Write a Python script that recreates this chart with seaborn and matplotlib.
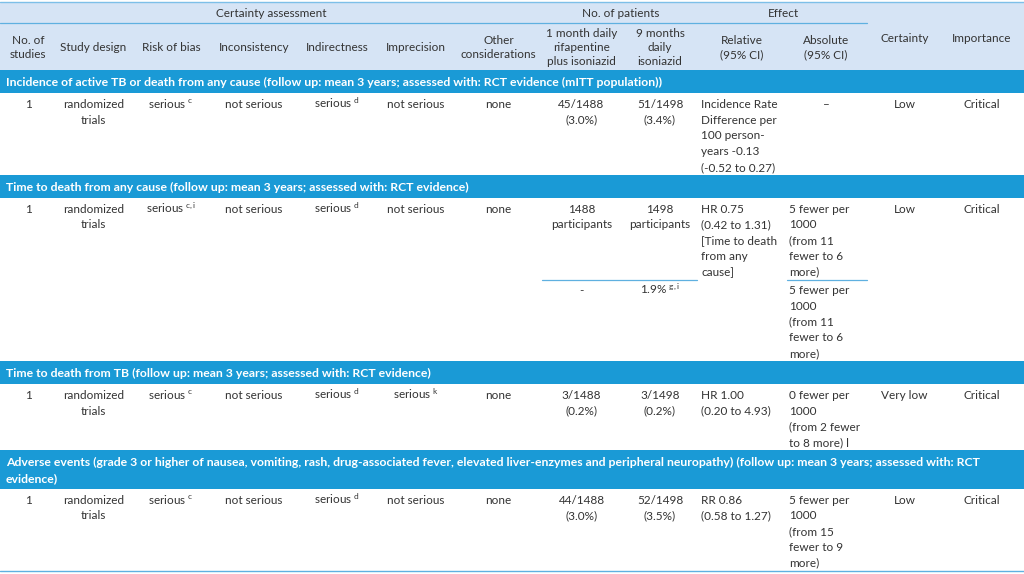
import matplotlib.pyplot as plt
from matplotlib.patches import Rectangle
import seaborn as sns

sns.set_theme(style='white')
plt.rcParams['font.family'] = ['Lato', 'DejaVu Sans']
plt.rcParams['mathtext.fontset'] = 'custom'
plt.rcParams['mathtext.rm'] = 'Lato'
plt.rcParams['mathtext.it'] = 'Lato:italic'
plt.rcParams['mathtext.bf'] = 'Lato:bold'

# table content
group_headers = ['Certainty assessment', 'No. of patients', 'Effect']
column_headers = ['No. of\nstudies', 'Study design', 'Risk of bias', 'Inconsistency',
                  'Indirectness', 'Imprecision', 'Other\nconsiderations',
                  '1 month daily\nrifapentine\nplus isoniazid', '9 months\ndaily\nisoniazid',
                  'Relative\n(95% CI)', 'Absolute\n(95% CI)', 'Certainty', 'Importance']
section_titles = [
    'Incidence of active TB or death from any cause (follow up: mean 3 years; assessed with: RCT evidence (mITT population))',
    'Time to death from any cause (follow up: mean 3 years; assessed with: RCT evidence)',
    'Time to death from TB (follow up: mean 3 years; assessed with: RCT evidence)',
    'Adverse events (grade 3 or higher of nausea, vomiting, rash, drug-associated fever, elevated liver-enzymes and peripheral neuropathy) (follow up: mean 3 years; assessed with: RCT\nevidence)',
]
n_studies = ['1', '1', '1', '1']
study_design = ['randomized\ntrials'] * 4
risk_of_bias = ['serious'] * 4
risk_of_bias_sup = ['c', 'c,i', 'c', 'c']
inconsistency = ['not serious'] * 4
indirectness = ['serious'] * 4
indirectness_sup = ['d', 'd', 'd', 'd']
imprecision = ['not serious', 'not serious', 'serious', 'not serious']
imprecision_sup = ['', '', 'k', '']
other = ['none'] * 4
rifapentine = ['45/1488\n(3.0%)', '1488\nparticipants', '3/1488\n(0.2%)', '44/1488\n(3.0%)']
isoniazid = ['51/1498\n(3.4%)', '1498\nparticipants', '3/1498\n(0.2%)', '52/1498\n(3.5%)']
relative = ['Incidence Rate\nDifference per\n100 person-\nyears -0.13\n(-0.52 to 0.27)',
            'HR 0.75\n(0.42 to 1.31)\n[Time to death\nfrom any\ncause]',
            'HR 1.00\n(0.20 to 4.93)',
            'RR 0.86\n(0.58 to 1.27)']
absolute = ['–', '5 fewer per\n1000\n(from 11\nfewer to 6\nmore)',
            '0 fewer per\n1000\n(from 2 fewer\nto 8 more) l',
            '5 fewer per\n1000\n(from 15\nfewer to 9\nmore)']
certainty = ['Low', 'Low', 'Very low', 'Low']
importance = ['Critical'] * 4
# second line of the "time to death from any cause" outcome
sub_section = 1
sub_rifapentine = '-'
sub_isoniazid = '1.9%'
sub_isoniazid_sup = 'g,i'
sub_absolute = '5 fewer per\n1000\n(from 11\nfewer to 6\nmore)'

# layout
edges = [0, 56, 131, 211, 297, 377, 455, 542, 621, 699, 785, 867, 942, 1022]
centers = [(a + b) / 2 for a, b in zip(edges[:-1], edges[1:])]
HEADER_BG = '#d6e4f5'
BAR = '#1a9ad6'
LINE = '#5fb0e0'
TXT = '#333333'
FS = 8.5
FS_BAR = 8.8
DY = 15.7


def sup(text, s):
    return text if not s else text + ' $^{\\mathrm{' + s + '}}$'


def put(ax, x, y, text, dy=DY, ha='center', **kw):
    kw.setdefault('color', TXT)
    kw.setdefault('fontsize', FS)
    for k, line in enumerate(text.split('\n')):
        ax.text(x, y + k * dy, line, ha=ha, va='baseline', **kw)


fig = plt.figure(figsize=(10.24, 5.74), dpi=100)
ax = fig.add_axes([0, 0, 1, 1])
ax.set_xlim(0, 1024)
ax.set_ylim(574, 0)
ax.axis('off')

# header block
ax.add_patch(Rectangle((0, 2), 1024, 68, color=HEADER_BG, lw=0))
ax.plot([0, 1024], [2, 2], color='#7dbfe8', lw=1.0)
ax.plot([0, edges[11]], [23, 23], color=LINE, lw=0.9)
group_x = [(edges[0] + edges[7]) / 2, (edges[7] + edges[9]) / 2, (edges[9] + edges[11]) / 2]
for gx, g in zip(group_x, group_headers):
    put(ax, gx, 17, g)
for k, h in enumerate(column_headers):
    n = h.count('\n') + 1
    yc = 37.5 if k >= 11 else 47
    put(ax, centers[k], yc - (n - 1) * 7 + 4, h, dy=14)

y = 70
for i, title in enumerate(section_titles):
    nl = title.count('\n') + 1
    bh = 23 + (nl - 1) * DY
    ax.add_patch(Rectangle((0, y), 1024, bh, color=BAR, lw=0))
    put(ax, 6, y + 16, title, ha='left', color='white', weight='bold', fontsize=FS_BAR)
    y += bh
    base = y + 15
    cells = [n_studies[i], study_design[i], sup(risk_of_bias[i], risk_of_bias_sup[i]),
             inconsistency[i], sup(indirectness[i], indirectness_sup[i]),
             sup(imprecision[i], imprecision_sup[i]), other[i], rifapentine[i], isoniazid[i]]
    for k, c in enumerate(cells):
        put(ax, centers[k], base, c)
    put(ax, edges[9] + 2, base, relative[i], ha='left')
    if absolute[i] == '–':
        put(ax, centers[10], base, absolute[i])
    else:
        put(ax, edges[10] + 4, base, absolute[i], ha='left')
    put(ax, centers[11], base, certainty[i])
    put(ax, centers[12], base, importance[i])
    nlines = max(t.count('\n') + 1 for t in cells + [relative[i], absolute[i]])
    last = base + (nlines - 1) * DY
    if i == sub_section:
        ly = last + 4.5
        ax.plot([edges[7], edges[9] - 2], [ly, ly], color=LINE, lw=0.9)
        ax.plot([edges[10] + 2, edges[11]], [ly, ly], color=LINE, lw=0.9)
        sb = ly + 14
        put(ax, centers[7], sb, sub_rifapentine)
        put(ax, centers[8], sb, sup(sub_isoniazid, sub_isoniazid_sup))
        put(ax, edges[10] + 4, sb, sub_absolute, ha='left')
        last = sb + (sub_absolute.count('\n')) * DY
    y = last + 4

ax.plot([0, 1024], [y, y], color=LINE, lw=1.0)

fig.savefig('out.png', dpi=100)
